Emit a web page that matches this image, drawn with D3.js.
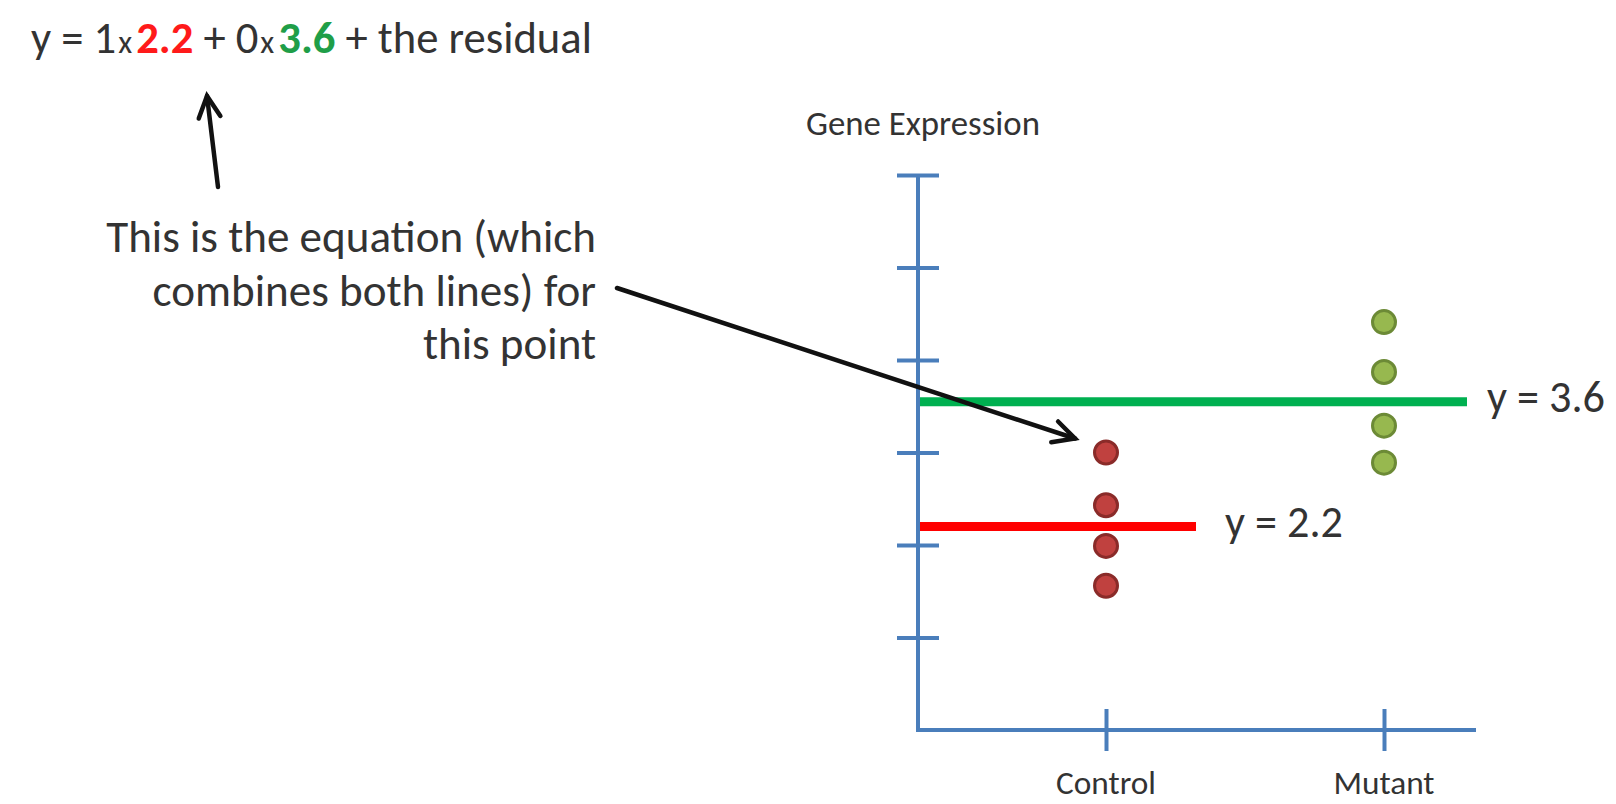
<!DOCTYPE html>
<html>
<head>
<meta charset="utf-8">
<script src="https://cdn.jsdelivr.net/npm/d3@7"></script>
<style>
  html, body { margin: 0; padding: 0; background: #ffffff; }
  svg { display: block; }
  text { font-family: Carlito, Lato, "Open Sans", sans-serif; fill: #333333; }
</style>
</head>
<body>
<svg id="chart" width="1616" height="804"></svg>
<script>
// ---------------- data ----------------
const categories = ["Control", "Mutant"];
const controlValues = [3.0, 2.43, 1.99, 1.56];
const mutantValues = [4.41, 3.87, 3.29, 2.89];
const fitValues = [2.2, 3.55];            // horizontal fitted lines
const fitLabels = ["y = 2.2", "y = 3.6"];
const yTickValues = [1, 2, 3, 4, 5, 6];
const yAxisTitle = "Gene Expression";
const equationParts = [
  { t: "y = 1", kind: "plain" },
  { t: "x", kind: "times" },
  { t: "2.2", kind: "red" },
  { t: " + 0", kind: "plain" },
  { t: "x", kind: "times" },
  { t: "3.6", kind: "green" },
  { t: " + the residual", kind: "plain" }
];
const noteLines = ["This is the equation (which", "combines both lines) for", "this point"];

// ---------------- layout ----------------
const svg = d3.select("#chart");
const axisX = 918, axisBottom = 730, axisTop = 175, axisRight = 1476;
const axisColor = "#4a7ebb";

const y = d3.scaleLinear().domain([0, 6]).range([axisBottom, axisTop]);
const x = d3.scalePoint().domain(categories).range([1106, 1384]).padding(0);

function fitText(sel, target) {
  const base = 30;
  sel.style("font-size", base + "px");
  const w = sel.node().getBBox().width;
  const size = base * target / w;
  sel.style("font-size", size + "px");
  return size;
}

// ---------------- axes ----------------
const gy = svg.append("g").attr("transform", `translate(${axisX},0)`)
  .call(d3.axisLeft(y).tickValues(yTickValues).tickFormat(""));
gy.select(".domain").remove();
gy.selectAll(".tick line").attr("x1", -21).attr("x2", 21)
  .attr("stroke", axisColor).attr("stroke-width", 4);

const gx = svg.append("g").attr("transform", `translate(0,${axisBottom})`)
  .call(d3.axisBottom(x).tickFormat(""));
gx.select(".domain").remove();
gx.selectAll(".tick line").attr("y1", -21).attr("y2", 21)
  .attr("stroke", axisColor).attr("stroke-width", 4);

svg.append("line").attr("x1", axisX).attr("x2", axisX)
  .attr("y1", axisTop).attr("y2", axisBottom + 2)
  .attr("stroke", axisColor).attr("stroke-width", 4);
svg.append("line").attr("x1", axisX - 2).attr("x2", axisRight)
  .attr("y1", axisBottom).attr("y2", axisBottom)
  .attr("stroke", axisColor).attr("stroke-width", 4);

// axis texts
const title = svg.append("text").attr("x", 923).attr("y", 135)
  .attr("text-anchor", "middle").text(yAxisTitle);
fitText(title, 234);

const catLabels = svg.selectAll(".cat").data(categories).join("text")
  .attr("class", "cat").attr("x", d => x(d)).attr("y", 794)
  .attr("text-anchor", "middle").text(d => d);
const catSize = fitText(d3.select(catLabels.nodes()[0]), 100);
catLabels.style("font-size", catSize + "px");

// ---------------- fitted lines ----------------
const lineEnds = [1196, 1467];
const lineColors = ["#ff0000", "#00b050"];
svg.selectAll(".fit").data(fitValues).join("line")
  .attr("class", "fit")
  .attr("x1", axisX + 2).attr("x2", (d, i) => lineEnds[i])
  .attr("y1", d => y(d)).attr("y2", d => y(d))
  .attr("stroke", (d, i) => lineColors[i]).attr("stroke-width", 9);

const labelX = [1225, 1487];
const labelDy = [10, 10];
const fl = svg.selectAll(".fitlabel").data(fitValues).join("text")
  .attr("class", "fitlabel")
  .attr("x", (d, i) => labelX[i])
  .attr("y", (d, i) => y(d) + labelDy[i])
  .text((d, i) => fitLabels[i]);
const flSize = fitText(d3.select(fl.nodes()[1]), 118);
fl.style("font-size", flSize + "px");

// ---------------- points ----------------
const pts = [];
controlValues.forEach(v => pts.push({ c: "Control", v }));
mutantValues.forEach(v => pts.push({ c: "Mutant", v }));
svg.selectAll(".pt").data(pts).join("circle")
  .attr("class", "pt")
  .attr("cx", d => x(d.c)).attr("cy", d => y(d.v)).attr("r", 11.5)
  .attr("fill", d => d.c === "Control" ? "#c0413f" : "#97b84f")
  .attr("stroke", d => d.c === "Control" ? "#8a2b29" : "#6c8a36")
  .attr("stroke-width", 3);

// ---------------- annotation texts ----------------
const eq = svg.append("text").attr("x", 31).attr("y", 53);
eq.selectAll("tspan").data(equationParts).join("tspan")
  .text(d => d.t)
  .style("font-size", d => d.kind === "times" ? "0.72em" : null)
  .style("font-weight", d => (d.kind === "red" || d.kind === "green") ? "bold" : null)
  .attr("dx", d => d.kind === "times" ? 2 : (d.kind === "red" || d.kind === "green") ? 4 : null)
  .style("fill", d => d.kind === "red" ? "#ff1a1a" : d.kind === "green" ? "#1f9e48" : null);
fitText(eq, 567);

const noteBase = [252, 306, 359];
const notes = svg.selectAll(".note").data(noteLines).join("text")
  .attr("class", "note")
  .attr("x", 596).attr("y", (d, i) => noteBase[i])
  .attr("text-anchor", "end").text(d => d);
const noteSize = fitText(d3.select(notes.nodes()[0]), 490);
notes.style("font-size", noteSize + "px");

// ---------------- arrows ----------------
function arrow(x1, y1, x2, y2) {
  const g = svg.append("g").attr("fill", "none").attr("stroke", "#111")
    .attr("stroke-width", 4.5).attr("stroke-linecap", "round").attr("stroke-linejoin", "miter");
  g.append("line").attr("x1", x1).attr("y1", y1).attr("x2", x2).attr("y2", y2);
  const a = Math.atan2(y1 - y2, x1 - x2);
  const L = 24, spread = 27 * Math.PI / 180;
  const p1 = [x2 + L * Math.cos(a + spread), y2 + L * Math.sin(a + spread)];
  const p2 = [x2 + L * Math.cos(a - spread), y2 + L * Math.sin(a - spread)];
  g.append("path").attr("d", `M${p1[0]},${p1[1]}L${x2},${y2}L${p2[0]},${p2[1]}`);
}
arrow(218, 187, 207, 96);
arrow(617, 288, x("Control") - 31, y(controlValues[0]) - 14);
</script>
</body>
</html>
